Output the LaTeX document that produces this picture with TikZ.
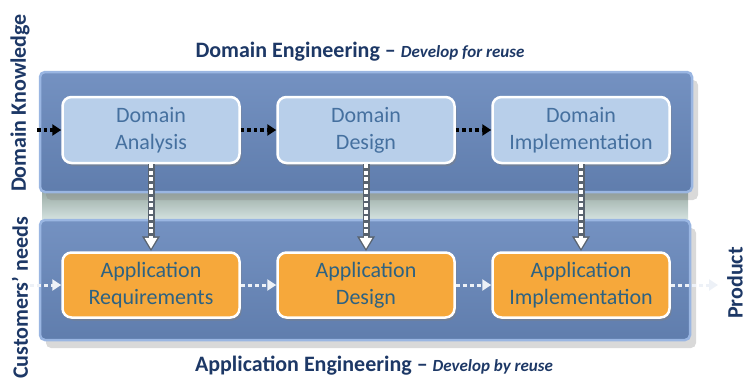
\documentclass[tikz,border=0pt]{standalone}
\usepackage{fontspec}
\setmainfont{Carlito}
\usetikzlibrary{arrows.meta,shadows}

\definecolor{panelblue}{HTML}{6888BC}
\definecolor{panelrim}{HTML}{9AB6E2}
\definecolor{bandtop}{HTML}{97A8A3}
\definecolor{bandbot}{HTML}{D9E7E4}
\definecolor{domfill}{HTML}{B8CFEA}
\definecolor{domtext}{HTML}{45709F}
\definecolor{appfill}{HTML}{F6A83B}
\definecolor{apptext}{HTML}{2D6282}
\definecolor{navy}{HTML}{1D3866}
\definecolor{linkgray}{HTML}{59636F}

\tikzset{
  panel/.style={top color=panelblue!92!white, bottom color=panelblue!92!black,
    draw=panelrim, line width=2.5pt, rounded corners=5pt,
    drop shadow={shadow xshift=6pt, shadow yshift=-8pt, opacity=0.3}},
  stagebox/.style={rectangle, rounded corners=9pt, draw=white, line width=2.5pt,
    minimum width=177pt, minimum height=66pt, align=center, inner sep=0pt,
    font=\fontsize{22}{27}\selectfont,
    drop shadow={shadow xshift=2pt, shadow yshift=-3pt, opacity=0.45}},
  domainbox/.style={stagebox, fill=domfill, text=domtext},
  appbox/.style={stagebox, fill=appfill, text=apptext, minimum height=65pt},
  sidelabel/.style={rotate=90, text=navy, inner sep=0pt, font=\fontsize{22}{26}\selectfont\bfseries},
  titletext/.style={text=navy, inner sep=0pt, font=\fontsize{22}{26}\selectfont\bfseries},
  blackflow/.style={black, line width=3.5pt, dash pattern=on 3.5pt off 3pt,
    -{Triangle[length=9pt,width=11pt]}},
  whiteflow/.style={white!88!panelblue, line width=3pt, dash pattern=on 4pt off 3pt,
    -{Triangle[length=9pt,width=11pt]}},
  reuseback/.style={linkgray, line width=7pt, -{Triangle[length=15pt,width=17pt]}},
  reusefront/.style={white, line width=4.5pt, dash pattern=on 4pt off 2.5pt, shorten >=2.5pt,
    -{Triangle[length=11pt,width=12pt]}}
}

\begin{document}
\begin{tikzpicture}[x=1pt,y=-1pt]
  \useasboundingbox (0,0) rectangle (747,383);

  % Band and the two panels
  \fill[top color=bandtop, bottom color=bandbot] (42,190) rectangle (688,222);
  \draw[panel] (40,72) rectangle (692,192);
  \draw[panel] (40,220) rectangle (690,340);

  % Stages
  \node[domainbox] (da) at (151,130) {Domain\\Analysis};
  \node[domainbox] (dd) at (366,130) {Domain\\Design};
  \node[domainbox] (di) at (581,130) {Domain\\Implementation};
  \node[appbox] (ar) at (151,285) {Application\\Requirements};
  \node[appbox] (ad) at (366,285) {Application\\Design};
  \node[appbox] (ai) at (581,285) {Application\\Implementation};

  % Free ends
  \coordinate (dk) at (37,130);
  \coordinate (cn) at (30,285);
  \coordinate (pr) at (718,285);

  % Domain flow
  \draw[blackflow] (dk) -- (da);
  \draw[blackflow] (da) -- (dd);
  \draw[blackflow] (dd) -- (di);

  % Application flow
  \draw[whiteflow] (cn) -- (ar);
  \draw[whiteflow] (ar) -- (ad);
  \draw[whiteflow] (ad) -- (ai);
  \draw[whiteflow] (ai) -- (pr);

  % Reuse links
  \foreach \d/\a in {da/ar,dd/ad,di/ai} {
    \draw[reuseback] (\d) -- (\a);
    \draw[reusefront] (\d) -- (\a);
  }

  % Labels
  \node[titletext] (dtitle) at (360,52) {Domain Engineering \textendash{} {\fontsize{17}{20}\selectfont\itshape Develop for reuse}};
  \node[titletext] (atitle) at (374,366) {Application Engineering \textendash{} {\fontsize{17}{20}\selectfont\itshape Develop by reuse}};
  \node[sidelabel] (know) at (20,103) {Domain Knowledge};
  \node[sidelabel] (needs) at (20,298) {Customers' needs};
  \node[sidelabel] (prod) at (735,283) {Product};
\end{tikzpicture}
\end{document}
